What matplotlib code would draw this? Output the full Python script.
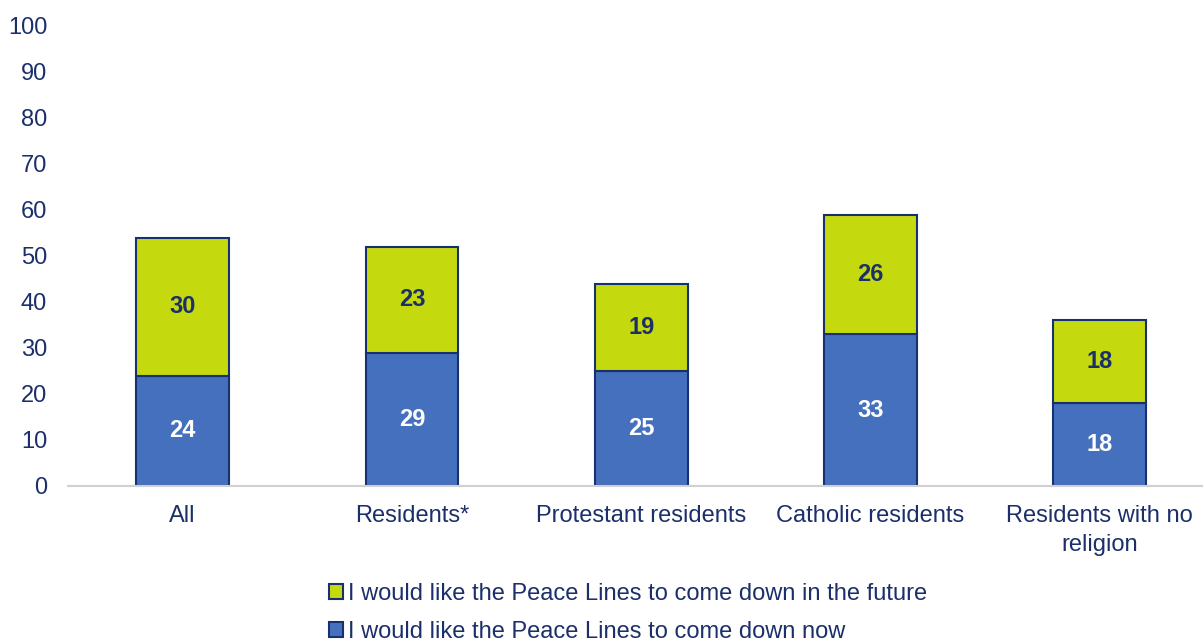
import matplotlib
matplotlib.use("Agg")
import matplotlib.pyplot as plt
import numpy as np

plt.rcParams["font.family"] = ["Liberation Sans", "DejaVu Sans"]

categories = ["All", "Residents*", "Protestant residents", "Catholic residents",
              "Residents with no\nreligion"]
down_now = [24, 29, 25, 33, 18]
down_future = [30, 23, 19, 26, 18]
series_labels = ["I would like the Peace Lines to come down now",
                 "I would like the Peace Lines to come down in the future"]

NAVY = "#1B2F6B"
BLUE = "#4570BD"
GREEN = "#C5DA0E"
EDGE = "#17306F"

fig = plt.figure(figsize=(12.03, 6.44), dpi=100)
ax = fig.add_axes([68 / 1203, 1 - 486 / 644, 1 - 68 / 1203, 460 / 644])

x = np.arange(len(categories))
w = 0.405
b1 = ax.bar(x, down_now, w, color=BLUE, edgecolor=EDGE, linewidth=1.5,
            label=series_labels[0])
b2 = ax.bar(x, down_future, w, bottom=down_now, color=GREEN, edgecolor=EDGE,
            linewidth=1.5, label=series_labels[1])

ax.bar_label(b1, label_type="center", color="white", fontsize=17, fontweight="bold")
ax.bar_label(b2, label_type="center", color=NAVY, fontsize=17, fontweight="bold")

ax.set_xlim(-0.5, 4.45)
ax.set_ylim(0, 100)
ax.set_yticks(range(0, 101, 10))
ax.set_xticks(x)
ax.set_xticklabels(categories, linespacing=1.38)
ax.tick_params(axis="both", length=0, labelsize=17, colors=NAVY)
ax.tick_params(axis="y", pad=15)
ax.tick_params(axis="x", pad=14)
for s in ["top", "right", "left"]:
    ax.spines[s].set_visible(False)
ax.spines["bottom"].set_color("#D0D0D0")
ax.spines["bottom"].set_linewidth(1.5)

handles = [b2, b1]
leg = fig.legend(handles, [series_labels[1], series_labels[0]],
                 loc="upper left", bbox_to_anchor=(329 / 1203, 1 - 583 / 644),
                 frameon=False, fontsize=17, handlelength=0.6, handleheight=0.6,
                 handletextpad=0.2, labelspacing=0.68, borderpad=0,
                 borderaxespad=0)
for t in leg.get_texts():
    t.set_color(NAVY)

fig.savefig("out.png", dpi=100)
